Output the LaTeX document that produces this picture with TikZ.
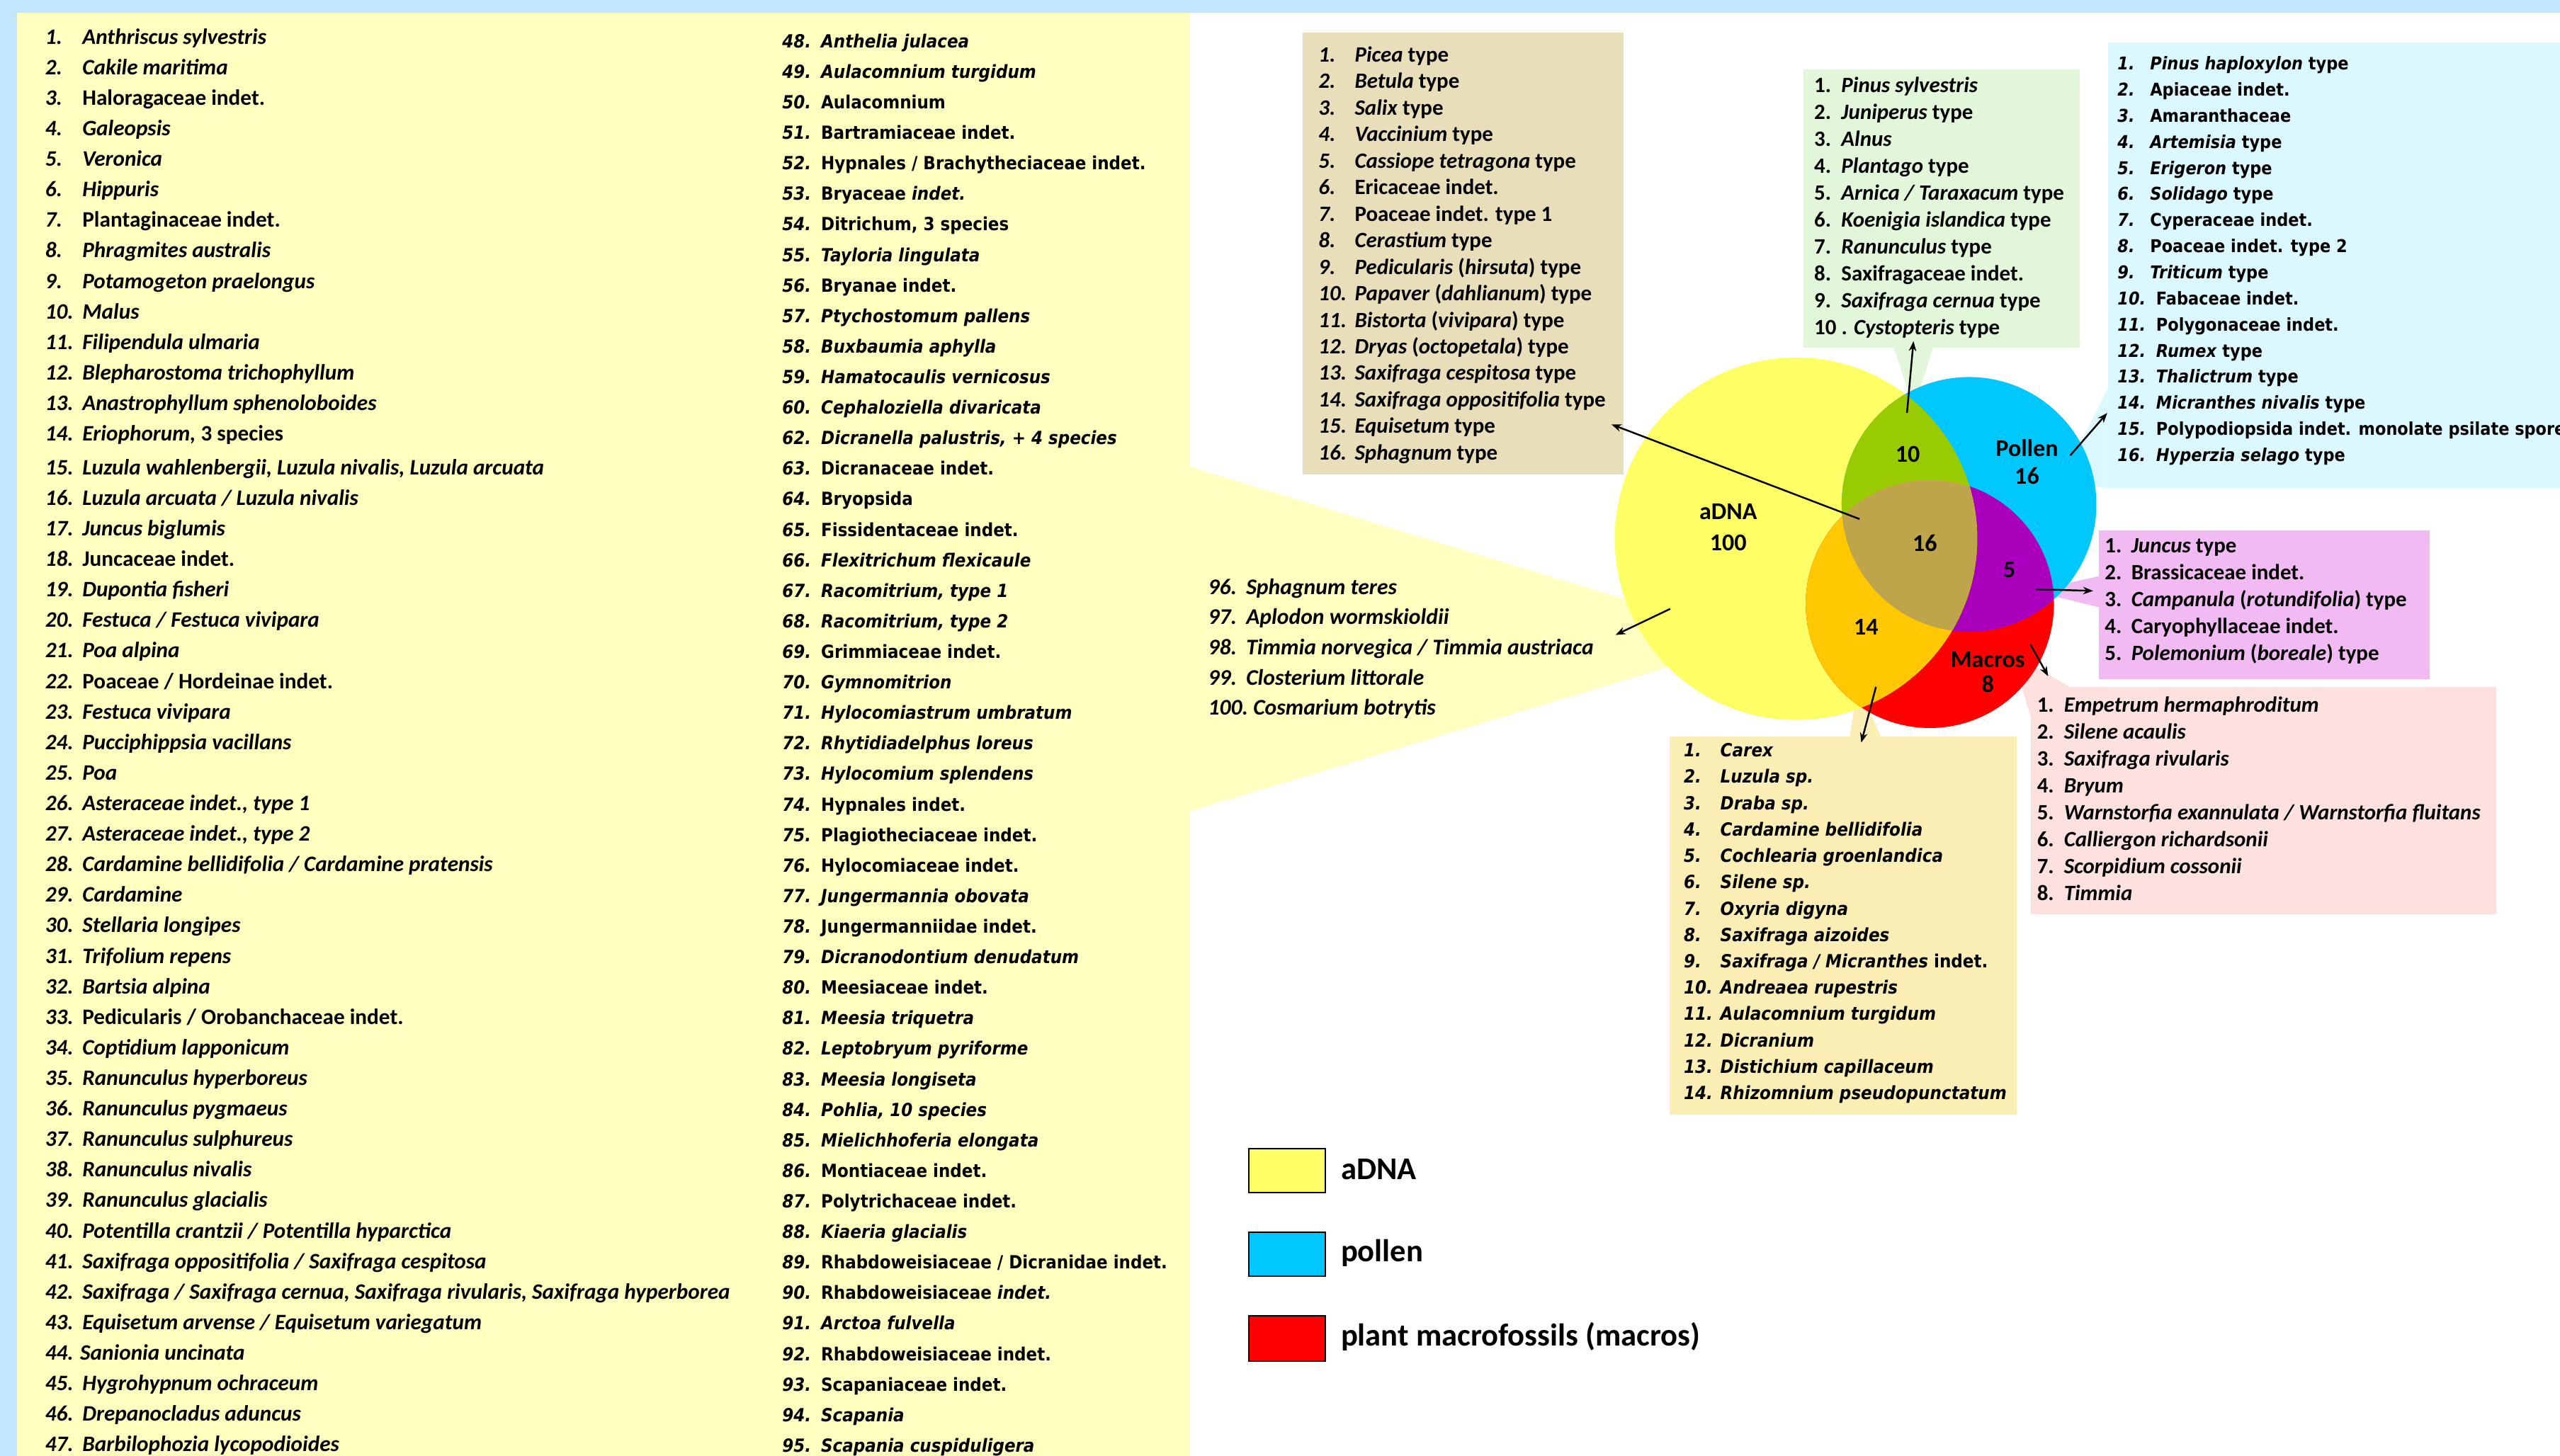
\documentclass[tikz,border=0pt]{standalone}
\usepackage{fontspec}
\setmainfont{Carlito}
\newfontfamily\verd[FakeStretch=0.9,ItalicFont={DejaVu Sans Oblique},BoldFont={DejaVu Sans Bold},BoldItalicFont={DejaVu Sans Bold Oblique}]{DejaVu Sans}
\usetikzlibrary{arrows.meta,fit}

\definecolor{frameblue}{RGB}{195,230,252}
\definecolor{paleyellow}{RGB}{255,255,192}
\definecolor{adnayellow}{RGB}{255,255,102}
\definecolor{pollenblue}{RGB}{0,200,255}
\definecolor{macrored}{RGB}{255,0,0}
\definecolor{lensgreen}{RGB}{153,204,0}
\definecolor{lensorange}{RGB}{255,200,0}
\definecolor{lenspurple}{RGB}{170,0,190}
\definecolor{lensolive}{RGB}{190,165,75}
\definecolor{tanbox}{RGB}{232,223,186}
\definecolor{greenbox}{RGB}{226,247,218}
\definecolor{cyanbox}{RGB}{220,248,255}
\definecolor{pinkbox}{RGB}{242,186,242}
\definecolor{rosebox}{RGB}{253,225,222}
\definecolor{beigebox}{RGB}{251,238,181}

\tikzstyle{panel}=[rectangle, inner sep=0pt, draw=none]
\tikzstyle{splist}=[inner sep=0pt, anchor=base west]
\tikzstyle{vlabel}=[align=center, inner sep=0pt]
\tikzstyle{arr}=[-{Stealth[length=4pt,width=3pt]}, line width=0.7pt]
\tikzstyle{legendbox}=[rectangle, draw=black, line width=0.6pt, inner sep=0pt]
\tikzstyle{legendtext}=[anchor=base west, inner sep=0pt, font=\fontsize{12.7}{15}\selectfont\bfseries]

\newlength{\numw}
\newcommand{\nb}[2][\numw]{\makebox[#1][l]{#2}}
\newcommand{\typ}{\textup{type}}
\newcommand{\calfont}[2]{\fontsize{#1}{#2}\selectfont\bfseries}

\begin{document}
\begin{tikzpicture}[x=0.02305cm, y=-0.02305cm]
\useasboundingbox (0,0) rectangle (1568,892);
\fill[frameblue] (0,0) rectangle (1568,892);
\fill[white] (10.6,8) rectangle (1568,892);

% panels and boxes
\node[panel, fill=paleyellow, fit={(10.6,8) (728.6,892)}] (leftpanel) {};
\fill[paleyellow] (728.6,286) -- (1077,392) -- (728.6,497) -- cycle;
\node[panel, fill=tanbox, fit={(798,19.8) (994.4,290.7)}] (tanpanel) {};
\node[panel, fill=greenbox, fit={(1104.6,42.6) (1273.6,213)}] (greenpanel) {};
\node[panel, fill=cyanbox, fit={(1291,26) (1568,299)}] (cyanpanel) {};
\node[panel, fill=pinkbox, fit={(1285.5,325) (1488,416)}] (pinkpanel) {};
\node[panel, fill=rosebox, fit={(1244,421) (1529,560)}] (rosepanel) {};
\node[panel, fill=beigebox, fit={(1022.5,451) (1235,683)}] (beigepanel) {};

% callout tails
\fill[greenbox] (1160,213) -- (1184,213) -- (1172,250) -- cycle;
\fill[cyanbox] (1291,238) -- (1262,296) -- (1291,299) -- cycle;
\fill[pinkbox] (1285.5,353) -- (1245,362) -- (1285.5,372) -- cycle;
\fill[rosebox] (1244,440) -- (1232,400) -- (1268,421) -- cycle;
\fill[beigebox] (1133,451) -- (1138,420) -- (1152,451) -- cycle;

% venn
\coordinate (adnac) at (1100,330);
\coordinate (pollenc) at (1206,309);
\coordinate (macroc) at (1182,370);
\fill[adnayellow] (adnac) circle[radius=111];
\fill[pollenblue] (pollenc) circle[radius=78];
\fill[macrored] (macroc) circle[radius=76];
\begin{scope}
  \clip (pollenc) circle[radius=78];
  \fill[lenspurple] (macroc) circle[radius=76];
\end{scope}
\begin{scope}
  \clip (adnac) circle[radius=111];
  \fill[lensgreen] (pollenc) circle[radius=78];
  \fill[lensorange] (macroc) circle[radius=76];
  \clip (pollenc) circle[radius=78];
  \fill[lensolive] (macroc) circle[radius=76];
\end{scope}

\node[vlabel, font=\fontsize{9.7}{12.5}\selectfont\bfseries] (adnalab) at (1058.5,323) {aDNA\\100};
\node[vlabel, font=\fontsize{9.7}{10.9}\selectfont\bfseries] (pollenlab) at (1241.5,283) {Pollen\\16};
\node[vlabel, font=\fontsize{9.7}{10}\selectfont\bfseries] (macrolab) at (1217.5,411.8) {Macros\\8};
\node[vlabel, font=\fontsize{9.7}{12}\selectfont\bfseries] (ap) at (1168.4,278.4) {10};
\node[vlabel, font=\fontsize{9.7}{12}\selectfont\bfseries] (apm) at (1179,332.6) {16};
\node[vlabel, font=\fontsize{9.7}{12}\selectfont\bfseries] (pm) at (1230.6,349.2) {5};
\node[vlabel, font=\fontsize{9.7}{12}\selectfont\bfseries] (am) at (1143,384) {14};

% lists
\node[splist] (leftlist) at (27.4,27) {\calfont{8.88}{12.27}\itshape\setlength{\numw}{0.5255cm}%
\begin{tabular}[t]{@{}l@{}}
\nb{1.}Anthriscus sylvestris\\
\nb{2.}Cakile maritima\\
\nb{3.}\textup{Haloragaceae indet.}\\
\nb{4.}Galeopsis\\
\nb{5.}Veronica\\
\nb{6.}Hippuris\\
\nb{7.}\textup{Plantaginaceae indet.}\\
\nb{8.}Phragmites australis\\
\nb{9.}Potamogeton praelongus\\
\nb{10.}Malus\\
\nb{11.}Filipendula ulmaria\\
\nb{12.}Blepharostoma trichophyllum\\
\nb{13.}Anastrophyllum sphenoloboides\\
\nb{14.}Eriophorum, \textup{3 species}\\[1.3pt]
\nb{15.}Luzula wahlenbergii, Luzula nivalis, Luzula arcuata\\
\nb{16.}Luzula arcuata / Luzula nivalis\\
\nb{17.}Juncus biglumis\\
\nb{18.}\textup{Juncaceae indet.}\\
\nb{19.}Dupontia fisheri\\
\nb{20.}Festuca / Festuca vivipara\\
\nb{21.}Poa alpina\\
\nb{22.}\textup{Poaceae / Hordeinae indet.}\\
\nb{23.}Festuca vivipara\\
\nb{24.}Pucciphippsia vacillans\\
\nb{25.}Poa\\
\nb{26.}Asteraceae indet., type 1\\
\nb{27.}Asteraceae indet., type 2\\
\nb{28.}Cardamine bellidifolia / Cardamine pratensis\\
\nb{29.}Cardamine\\
\nb{30.}Stellaria longipes\\
\nb{31.}Trifolium repens\\
\nb{32.}Bartsia alpina\\
\nb{33.}\textup{Pedicularis / Orobanchaceae indet.}\\
\nb{34.}Coptidium lapponicum\\
\nb{35.}Ranunculus hyperboreus\\
\nb{36.}Ranunculus pygmaeus\\
\nb{37.}Ranunculus sulphureus\\
\nb{38.}Ranunculus nivalis\\
\nb{39.}Ranunculus glacialis\\
\nb{40.}Potentilla crantzii / Potentilla hyparctica\\
\nb{41.}Saxifraga oppositifolia / Saxifraga cespitosa\\
\nb{42.}Saxifraga / Saxifraga cernua, Saxifraga rivularis, Saxifraga hyperborea\\
\nb{43.}Equisetum arvense / Equisetum variegatum\\
44. Sanionia uncinata\\
\nb{45.}Hygrohypnum ochraceum\\
\nb{46.}Drepanocladus aduncus\\
\nb{47.}Barbilophozia lycopodioides
\end{tabular}};

\node[splist] (midlist) at (478.8,29.2) {\verd\calfont{7.28}{12.27}\itshape\setlength{\numw}{0.549cm}%
\begin{tabular}[t]{@{}l@{}}
\nb{48.}Anthelia julacea\\
\nb{49.}Aulacomnium turgidum\\
\nb{50.}\textup{Aulacomnium}\\
\nb{51.}\textup{Bartramiaceae indet.}\\
\nb{52.}\textup{Hypnales / Brachytheciaceae indet.}\\
\nb{53.}\textup{Bryaceae} indet.\\
\nb{54.}\textup{Ditrichum, 3 species}\\
\nb{55.}Tayloria lingulata\\
\nb{56.}\textup{Bryanae indet.}\\
\nb{57.}Ptychostomum pallens\\
\nb{58.}Buxbaumia aphylla\\
\nb{59.}Hamatocaulis vernicosus\\
\nb{60.}Cephaloziella divaricata\\
\nb{62.}Dicranella palustris, + 4 species\\
\nb{63.}\textup{Dicranaceae indet.}\\
\nb{64.}\textup{Bryopsida}\\
\nb{65.}\textup{Fissidentaceae indet.}\\
\nb{66.}Flexitrichum flexicaule\\
\nb{67.}Racomitrium, type 1\\
\nb{68.}Racomitrium, type 2\\
\nb{69.}\textup{Grimmiaceae indet.}\\
\nb{70.}Gymnomitrion\\
\nb{71.}Hylocomiastrum umbratum\\
\nb{72.}Rhytidiadelphus loreus\\
\nb{73.}Hylocomium splendens\\
\nb{74.}\textup{Hypnales indet.}\\
\nb{75.}\textup{Plagiotheciaceae indet.}\\
\nb{76.}\textup{Hylocomiaceae indet.}\\
\nb{77.}Jungermannia obovata\\
\nb{78.}\textup{Jungermanniidae indet.}\\
\nb{79.}Dicranodontium denudatum\\
\nb{80.}\textup{Meesiaceae indet.}\\
\nb{81.}Meesia triquetra\\
\nb{82.}Leptobryum pyriforme\\
\nb{83.}Meesia longiseta\\
\nb{84.}Pohlia, 10 species\\
\nb{85.}Mielichhoferia elongata\\
\nb{86.}\textup{Montiaceae indet.}\\
\nb{87.}\textup{Polytrichaceae indet.}\\
\nb{88.}Kiaeria glacialis\\
\nb{89.}\textup{Rhabdoweisiaceae / Dicranidae indet.}\\
\nb{90.}\textup{Rhabdoweisiaceae} indet.\\
\nb{91.}Arctoa fulvella\\
\nb{92.}\textup{Rhabdoweisiaceae indet.}\\
\nb{93.}\textup{Scapaniaceae indet.}\\
\nb{94.}Scapania\\
\nb{95.}Scapania cuspiduligera
\end{tabular}};

\node[splist] (lastlist) at (739.7,364.1) {\calfont{9.0}{12.13}\itshape\setlength{\numw}{0.537cm}%
\begin{tabular}[t]{@{}l@{}}
\nb{96.}Sphagnum teres\\
\nb{97.}Aplodon wormskioldii\\
\nb{98.}Timmia norvegica / Timmia austriaca\\
\nb{99.}Closterium littorale\\
100.\ Cosmarium botrytis
\end{tabular}};

\node[splist] (tanlist) at (807.3,37.8) {\calfont{8.8}{10.67}\itshape\setlength{\numw}{0.512cm}%
\begin{tabular}[t]{@{}l@{}}
\nb{1.}Picea \typ\\
\nb{2.}Betula \typ\\
\nb{3.}Salix \typ\\
\nb{4.}Vaccinium \typ\\
\nb{5.}Cassiope tetragona \typ\\
\nb{6.}\textup{Ericaceae indet.}\\
\nb{7.}\textup{Poaceae indet. type 1}\\
\nb{8.}Cerastium \typ\\
\nb{9.}Pedicularis \textup{(}hirsuta\textup{)} \typ\\
\nb{10.}Papaver \textup{(}dahlianum\textup{)} \typ\\
\nb{11.}Bistorta \textup{(}vivipara\textup{)} \typ\\
\nb{12.}Dryas \textup{(}octopetala\textup{)} \typ\\
\nb{13.}Saxifraga cespitosa \typ\\
\nb{14.}Saxifraga oppositifolia \typ\\
\nb{15.}Equisetum \typ\\
\nb{16.}Sphagnum \typ
\end{tabular}};

\node[splist] (greenlist) at (1110.9,56.6) {\calfont{8.8}{10.81}\setlength{\numw}{0.383cm}%
\begin{tabular}[t]{@{}l@{}}
\nb{1.}\textit{Pinus sylvestris}\\
\nb{2.}\textit{Juniperus} type\\
\nb{3.}\textit{Alnus}\\
\nb{4.}\textit{Plantago} type\\
\nb{5.}\textit{Arnica / Taraxacum} type\\
\nb{6.}\textit{Koenigia islandica} type\\
\nb{7.}\textit{Ranunculus} type\\
\nb{8.}Saxifragaceae indet.\\
\nb{9.}\textit{Saxifraga cernua} type\\
10 . \textit{Cystopteris} type
\end{tabular}};

\begin{scope}
\clip (cyanpanel.south west) rectangle (cyanpanel.north east);
\node[splist] (cyanlist) at (1296.7,42.8) {\verd\calfont{7.1}{10.49}\itshape\setlength{\numw}{0.459cm}%
\begin{tabular}[t]{@{}l@{}}
\nb{1.}Pinus haploxylon \typ\\
\nb{2.}\textup{Apiaceae indet.}\\
\nb{3.}\textup{Amaranthaceae}\\
\nb{4.}Artemisia \typ\\
\nb{5.}Erigeron \typ\\
\nb{6.}Solidago \typ\\
\nb{7.}\textup{Cyperaceae indet.}\\
\nb{8.}\textup{Poaceae indet. type 2}\\
\nb{9.}Triticum \typ\\
\nb[0.545cm]{10.}\textup{Fabaceae indet.}\\
\nb[0.545cm]{11.}\textup{Polygonaceae indet.}\\
\nb[0.545cm]{12.}Rumex \typ\\
\nb[0.545cm]{13.}Thalictrum \typ\\
\nb[0.545cm]{14.}Micranthes nivalis \typ\\
\nb[0.545cm]{15.}\textup{Polypodiopsida indet. monolate psilate spores}\\
\nb[0.545cm]{16.}Hyperzia selago \typ
\end{tabular}};
\end{scope}

\node[splist] (pinklist) at (1288.9,338.8) {\calfont{8.8}{10.76}\setlength{\numw}{0.373cm}%
\begin{tabular}[t]{@{}l@{}}
\nb{1.}\textit{Juncus} type\\
\nb{2.}Brassicaceae indet.\\
\nb{3.}\textit{Campanula} (\textit{rotundifolia}) type\\
\nb{4.}Caryophyllaceae indet.\\
\nb{5.}\textit{Polemonium} (\textit{boreale}) type
\end{tabular}};

\node[splist] (roselist) at (1247.4,436.2) {\calfont{8.8}{10.8}\setlength{\numw}{0.380cm}%
\begin{tabular}[t]{@{}l@{}}
\nb{1.}\textit{Empetrum hermaphroditum}\\
\nb{2.}\textit{Silene acaulis}\\
\nb{3.}\textit{Saxifraga rivularis}\\
\nb{4.}\textit{Bryum}\\
\nb{5.}\textit{Warnstorfia exannulata / Warnstorfia fluitans}\\
\nb{6.}\textit{Calliergon richardsonii}\\
\nb{7.}\textit{Scorpidium cossonii}\\
\nb{8.}\textit{Timmia}
\end{tabular}};

\node[splist] (beigelist) at (1031,463.7) {\verd\calfont{7.3}{10.59}\itshape\setlength{\numw}{0.516cm}%
\begin{tabular}[t]{@{}l@{}}
\nb{1.}Carex\\
\nb{2.}Luzula sp.\\
\nb{3.}Draba sp.\\
\nb{4.}Cardamine bellidifolia\\
\nb{5.}Cochlearia groenlandica\\
\nb{6.}Silene sp.\\
\nb{7.}Oxyria digyna\\
\nb{8.}Saxifraga aizoides\\
\nb{9.}Saxifraga / Micranthes \textup{indet.}\\
\nb{10.}Andreaea rupestris\\
\nb{11.}Aulacomnium turgidum\\
\nb{12.}Dicranium\\
\nb{13.}Distichium capillaceum\\
\nb{14.}Rhizomnium pseudopunctatum
\end{tabular}};

% arrows
\coordinate (fromapm) at (1139,318);
\coordinate (totan) at (987,260);
\coordinate (fromap) at (1168,253);
\coordinate (togreen) at (1172,209);
\coordinate (frompollen) at (1268,279);
\coordinate (tocyan) at (1290.7,253);
\coordinate (frompm) at (1247,361);
\coordinate (topink) at (1282,362);
\coordinate (frommacro) at (1243.6,394.8);
\coordinate (torose) at (1254.5,414.3);
\coordinate (fromam) at (1149,420.8);
\coordinate (tobeige) at (1140,455);
\coordinate (fromadna) at (1023,373);
\coordinate (tolast) at (989.5,389);
\draw[arr] (fromapm) -- (totan);
\draw[arr] (fromap) -- (togreen);
\draw[arr] (frompollen) -- (tocyan);
\draw[arr] (frompm) -- (topink);
\draw[arr] (frommacro) -- (torose);
\draw[arr] (fromam) -- (tobeige);
\draw[arr] (fromadna) -- (tolast);

% legend
\node[legendbox, fill=adnayellow, fit={(765,703.6) (811.7,730.6)}] (keyadna) {};
\node[legendbox, fill=pollenblue, fit={(765,755) (811.7,782)}] (keypollen) {};
\node[legendbox, fill=macrored, fit={(765,806) (811.7,834)}] (keymacro) {};
\node[legendtext] (keyadnatext) at (821,722.5) {aDNA};
\node[legendtext] (keypollentext) at (821,773) {pollen};
\node[legendtext] (keymacrotext) at (821,824.6) {plant macrofossils (macros)};
\end{tikzpicture}
\end{document}
